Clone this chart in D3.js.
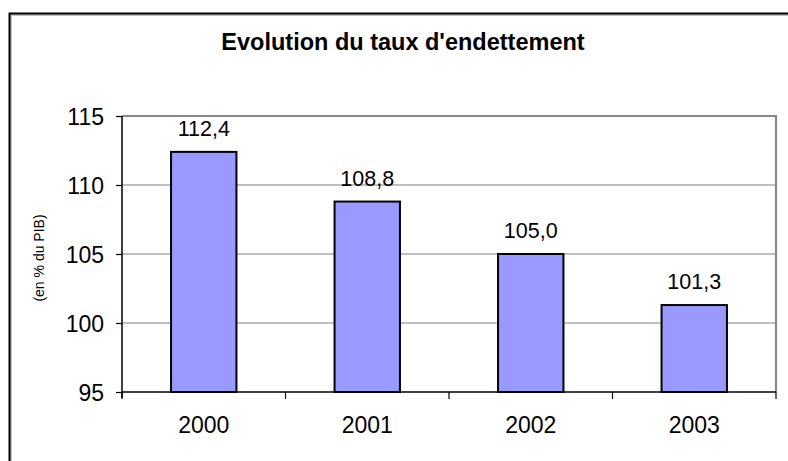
<!DOCTYPE html>
<html><head><meta charset="utf-8">
<script src="https://cdn.jsdelivr.net/npm/d3@7"></script>
<style>body{margin:0;background:#fff}svg{display:block;font-family:"Liberation Sans",Arial,sans-serif}</style>
</head><body>
<svg id="c" width="788" height="461"></svg>
<script>
const categories = ["2000","2001","2002","2003"];
const values = [112.4,108.8,105.0,101.3];
const valueLabels = ["112,4","108,8","105,0","101,3"];
const yTicks = [95,100,105,110,115];
const title = "Evolution du taux d'endettement";
const yTitle = "(en % du PIB)";

const svg = d3.select("#c");
const L=122, R=776, T=116, B=392;

// outer frame (extends past window)
svg.append("rect").attr("x",11).attr("y",15).attr("width",800).attr("height",460)
  .attr("fill","none").attr("stroke","#c0c0c0").attr("stroke-width",2);
svg.append("rect").attr("x",9.5).attr("y",13.5).attr("width",800).attr("height",460)
  .attr("fill","none").attr("stroke","#000").attr("stroke-width",2);

const x = d3.scaleBand().domain(categories).range([L,R]).paddingInner(0).paddingOuter(0);
const y = d3.scaleLinear().domain([95,115]).range([B,T]);

// gridlines
svg.append("g").selectAll("line").data(yTicks.filter(d=>d>95 && d<115)).join("line")
  .attr("x1",L).attr("x2",R).attr("y1",d=>y(d)).attr("y2",d=>y(d))
  .attr("stroke","#808080").attr("stroke-width",1.2);
// top & right plot border
svg.append("path").attr("d",`M${L},${y(115)}H${R}V${B}`).attr("fill","none")
  .attr("stroke","#888").attr("stroke-width",2.2);

// bars
const bw = x.bandwidth()*0.4;
svg.append("g").selectAll("rect").data(values).join("rect")
  .attr("x",(d,i)=>x(categories[i])+x.bandwidth()/2-bw/2)
  .attr("y",d=>y(d)).attr("width",bw).attr("height",d=>B-y(d))
  .attr("fill","#9999FF").attr("stroke","#000").attr("stroke-width",2);

// data labels
svg.append("g").selectAll("text").data(values).join("text")
  .attr("x",(d,i)=>x(categories[i])+x.bandwidth()/2)
  .attr("y",d=>y(d)-16).attr("text-anchor","middle")
  .attr("font-size",21.5).attr("fill","#000").text((d,i)=>valueLabels[i]);

// y axis
const ya = d3.axisLeft(y).tickValues(yTicks).tickSize(6).tickPadding(12).tickFormat(d3.format("d"));
const gy = svg.append("g").attr("transform",`translate(${L},0)`).call(ya);
gy.select(".domain").attr("stroke","#000").attr("stroke-width",1.5).attr("d",`M0,${T}V${B+6}`);
gy.selectAll(".tick line").attr("stroke","#000").attr("stroke-width",1.2);
gy.selectAll("text").attr("font-size",23).attr("font-family","Liberation Sans, Arial").attr("fill","#000").attr("dy","0.35em");

// x axis
const gx = svg.append("g").attr("transform",`translate(0,${B})`);
gx.append("line").attr("x1",L).attr("x2",R).attr("y1",0).attr("y2",0).attr("stroke","#000").attr("stroke-width",1.5);
const bounds = categories.map(c=>x(c)).concat([R]);
gx.selectAll("line.t").data(bounds).join("line").attr("class","t")
  .attr("x1",d=>d).attr("x2",d=>d).attr("y1",0).attr("y2",7).attr("stroke","#000").attr("stroke-width",1.2);
gx.selectAll("text").data(categories).join("text")
  .attr("x",d=>x(d)+x.bandwidth()/2).attr("y",41).attr("text-anchor","middle")
  .attr("font-size",23).attr("fill","#000").text(d=>d);

// title
svg.append("text").attr("x",403).attr("y",50).attr("text-anchor","middle")
  .attr("font-size",23.5).attr("font-weight","bold").attr("fill","#000").text(title);

// y title
svg.append("text").attr("transform","translate(44,258) rotate(-90)").attr("text-anchor","middle")
  .attr("font-size",14).attr("fill","#000").text(yTitle);
</script>
</body></html>
